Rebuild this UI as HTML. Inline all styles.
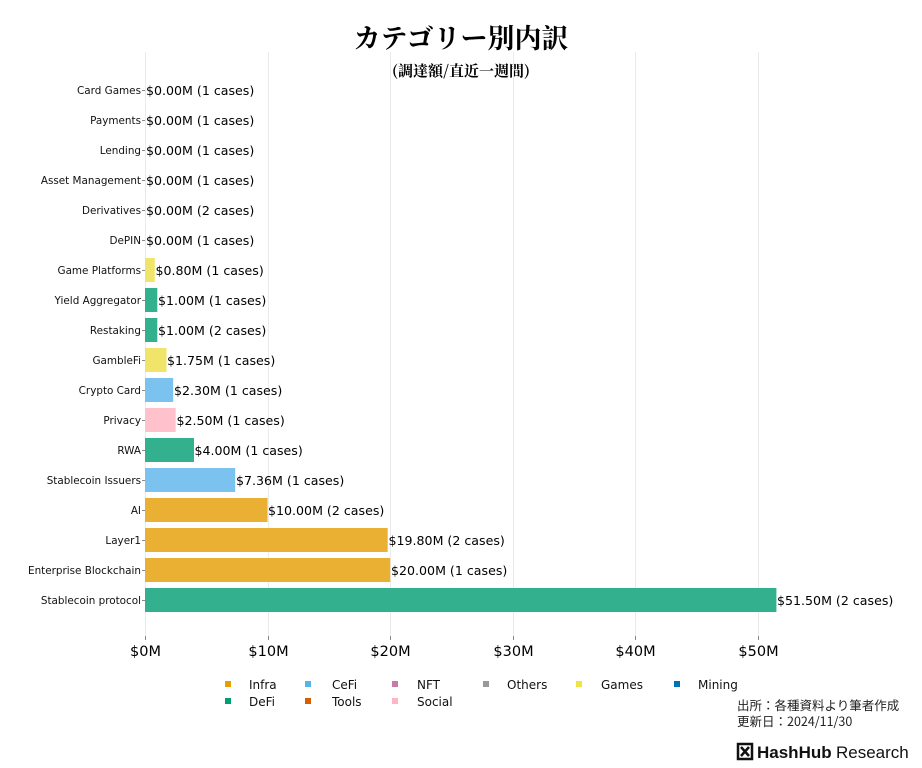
<!DOCTYPE html>
<html><head><meta charset="utf-8"><style>
body{margin:0;background:#fff;}
svg{display:block;font-family:"DejaVu Sans","Liberation Sans",sans-serif;}
.t{font-size:10.4px;fill:#111;text-anchor:end}
.v{font-size:12.6px;fill:#000}
.x{font-size:14.5px;fill:#000;text-anchor:middle}
.l{font-size:12px;fill:#111}
</style></head><body>
<svg width="922" height="768" viewBox="0 0 922 768">
<text x="461" y="48" text-anchor="middle" style="font-family:'Noto Serif CJK SC','Noto Sans CJK JP',serif;font-size:27px;font-weight:bold">カテゴリー別内訳</text>
<text x="461" y="76" text-anchor="middle" style="font-family:'Noto Serif CJK SC','Noto Sans CJK JP',serif;font-size:15px;font-weight:bold">(調達額/直近一週間)</text>
<g stroke="#ebebeb" stroke-width="1">
<line x1="145.5" y1="52" x2="145.5" y2="636"/><line x1="268.5" y1="52" x2="268.5" y2="636"/><line x1="390.5" y1="52" x2="390.5" y2="636"/><line x1="513.5" y1="52" x2="513.5" y2="636"/><line x1="635.5" y1="52" x2="635.5" y2="636"/><line x1="758.5" y1="52" x2="758.5" y2="636"/>
</g>
<g>
<rect x="145" y="258" width="9.8" height="24" fill="#F0E46A"/>
<rect x="145" y="288" width="12.3" height="24" fill="#33B08D"/>
<rect x="145" y="318" width="12.3" height="24" fill="#33B08D"/>
<rect x="145" y="348" width="21.5" height="24" fill="#F0E46A"/>
<rect x="145" y="378" width="28.2" height="24" fill="#7BC3EE"/>
<rect x="145" y="408" width="30.7" height="24" fill="#FFC2CC"/>
<rect x="145" y="438" width="49" height="24" fill="#33B08D"/>
<rect x="145" y="468" width="90.2" height="24" fill="#7BC3EE"/>
<rect x="145" y="498" width="122.6" height="24" fill="#EAB033"/>
<rect x="145" y="528" width="242.7" height="24" fill="#EAB033"/>
<rect x="145" y="558" width="245.2" height="24" fill="#EAB033"/>
<rect x="145" y="588" width="631.4" height="24" fill="#33B08D"/>
</g>
<g stroke="#888" stroke-width="1">
<line x1="142" y1="90.5" x2="145" y2="90.5"/><line x1="142" y1="120.5" x2="145" y2="120.5"/><line x1="142" y1="150.5" x2="145" y2="150.5"/><line x1="142" y1="180.5" x2="145" y2="180.5"/><line x1="142" y1="210.5" x2="145" y2="210.5"/><line x1="142" y1="240.5" x2="145" y2="240.5"/><line x1="142" y1="270.5" x2="145" y2="270.5"/><line x1="142" y1="300.5" x2="145" y2="300.5"/><line x1="142" y1="330.5" x2="145" y2="330.5"/><line x1="142" y1="360.5" x2="145" y2="360.5"/><line x1="142" y1="390.5" x2="145" y2="390.5"/><line x1="142" y1="420.5" x2="145" y2="420.5"/><line x1="142" y1="450.5" x2="145" y2="450.5"/><line x1="142" y1="480.5" x2="145" y2="480.5"/><line x1="142" y1="510.5" x2="145" y2="510.5"/><line x1="142" y1="540.5" x2="145" y2="540.5"/><line x1="142" y1="570.5" x2="145" y2="570.5"/><line x1="142" y1="600.5" x2="145" y2="600.5"/>
<line x1="145.5" y1="636" x2="145.5" y2="640"/><line x1="268.5" y1="636" x2="268.5" y2="640"/><line x1="390.5" y1="636" x2="390.5" y2="640"/><line x1="513.5" y1="636" x2="513.5" y2="640"/><line x1="635.5" y1="636" x2="635.5" y2="640"/><line x1="758.5" y1="636" x2="758.5" y2="640"/>
</g>
<g>
<text class="t" x="141" y="94">Card Games</text>
<text class="t" x="141" y="124">Payments</text>
<text class="t" x="141" y="154">Lending</text>
<text class="t" x="141" y="184">Asset Management</text>
<text class="t" x="141" y="214">Derivatives</text>
<text class="t" x="141" y="244">DePIN</text>
<text class="t" x="141" y="274">Game Platforms</text>
<text class="t" x="141" y="304">Yield Aggregator</text>
<text class="t" x="141" y="334">Restaking</text>
<text class="t" x="141" y="364">GambleFi</text>
<text class="t" x="141" y="394">Crypto Card</text>
<text class="t" x="141" y="424">Privacy</text>
<text class="t" x="141" y="454">RWA</text>
<text class="t" x="141" y="484">Stablecoin Issuers</text>
<text class="t" x="141" y="514">AI</text>
<text class="t" x="141" y="544">Layer1</text>
<text class="t" x="141" y="574">Enterprise Blockchain</text>
<text class="t" x="141" y="604">Stablecoin protocol</text>
</g>
<g>
<text class="v" x="146" y="95">$0.00M (1 cases)</text>
<text class="v" x="146" y="125">$0.00M (1 cases)</text>
<text class="v" x="146" y="155">$0.00M (1 cases)</text>
<text class="v" x="146" y="185">$0.00M (1 cases)</text>
<text class="v" x="146" y="215">$0.00M (2 cases)</text>
<text class="v" x="146" y="245">$0.00M (1 cases)</text>
<text class="v" x="155.5" y="275">$0.80M (1 cases)</text>
<text class="v" x="158" y="305">$1.00M (1 cases)</text>
<text class="v" x="158" y="335">$1.00M (2 cases)</text>
<text class="v" x="167" y="365">$1.75M (1 cases)</text>
<text class="v" x="174" y="395">$2.30M (1 cases)</text>
<text class="v" x="176.5" y="425">$2.50M (1 cases)</text>
<text class="v" x="194.5" y="455">$4.00M (1 cases)</text>
<text class="v" x="236" y="485">$7.36M (1 cases)</text>
<text class="v" x="268" y="515">$10.00M (2 cases)</text>
<text class="v" x="388.5" y="545">$19.80M (2 cases)</text>
<text class="v" x="391" y="575">$20.00M (1 cases)</text>
<text class="v" x="777" y="605">$51.50M (2 cases)</text>
</g>
<g>
<text class="x" x="145.5" y="656">$0M</text>
<text class="x" x="268.5" y="656">$10M</text>
<text class="x" x="390.5" y="656">$20M</text>
<text class="x" x="513.5" y="656">$30M</text>
<text class="x" x="635.5" y="656">$40M</text>
<text class="x" x="758.5" y="656">$50M</text>
</g>
<g>
<rect x="225" y="681" width="6" height="6" fill="#E69F00"/><text class="l" x="249" y="689">Infra</text>
<rect x="305" y="681" width="6" height="6" fill="#56B4E9"/><text class="l" x="332" y="689">CeFi</text>
<rect x="392" y="681" width="6" height="6" fill="#CC79A7"/><text class="l" x="417" y="689">NFT</text>
<rect x="483" y="681" width="6" height="6" fill="#999999"/><text class="l" x="507" y="689">Others</text>
<rect x="576" y="681" width="6" height="6" fill="#F0E442"/><text class="l" x="601" y="689">Games</text>
<rect x="674" y="681" width="6" height="6" fill="#0072B2"/><text class="l" x="698" y="689">Mining</text>
<rect x="225" y="698" width="6" height="6" fill="#009E73"/><text class="l" x="249" y="706">DeFi</text>
<rect x="305" y="698" width="6" height="6" fill="#D55E00"/><text class="l" x="332" y="706">Tools</text>
<rect x="392" y="698" width="6" height="6" fill="#FFB6C1"/><text class="l" x="417" y="706">Social</text>
</g>
<text x="737" y="710" style="font-family:'Noto Sans CJK JP',sans-serif;font-size:12.5px;fill:#222">出所：各種資料より筆者作成</text>
<text x="737" y="726" style="font-family:'Noto Sans CJK JP',sans-serif;font-size:12.5px;fill:#222">更新日：2024/11/30</text>
<g transform="translate(737,743)">
<rect x="1" y="1" width="14" height="15" fill="none" stroke="#111" stroke-width="2.5"/>
<path d="M4 4 L12 13 M12 4 L4 13" stroke="#111" stroke-width="2.5"/>
</g>
<text x="757" y="758" style="font-family:'Liberation Sans',sans-serif;font-size:17px;font-weight:bold;fill:#111">HashHub</text>
<text x="836" y="758" style="font-family:'Liberation Sans',sans-serif;font-size:17px;fill:#111">Research</text>
</svg>
</body></html>
